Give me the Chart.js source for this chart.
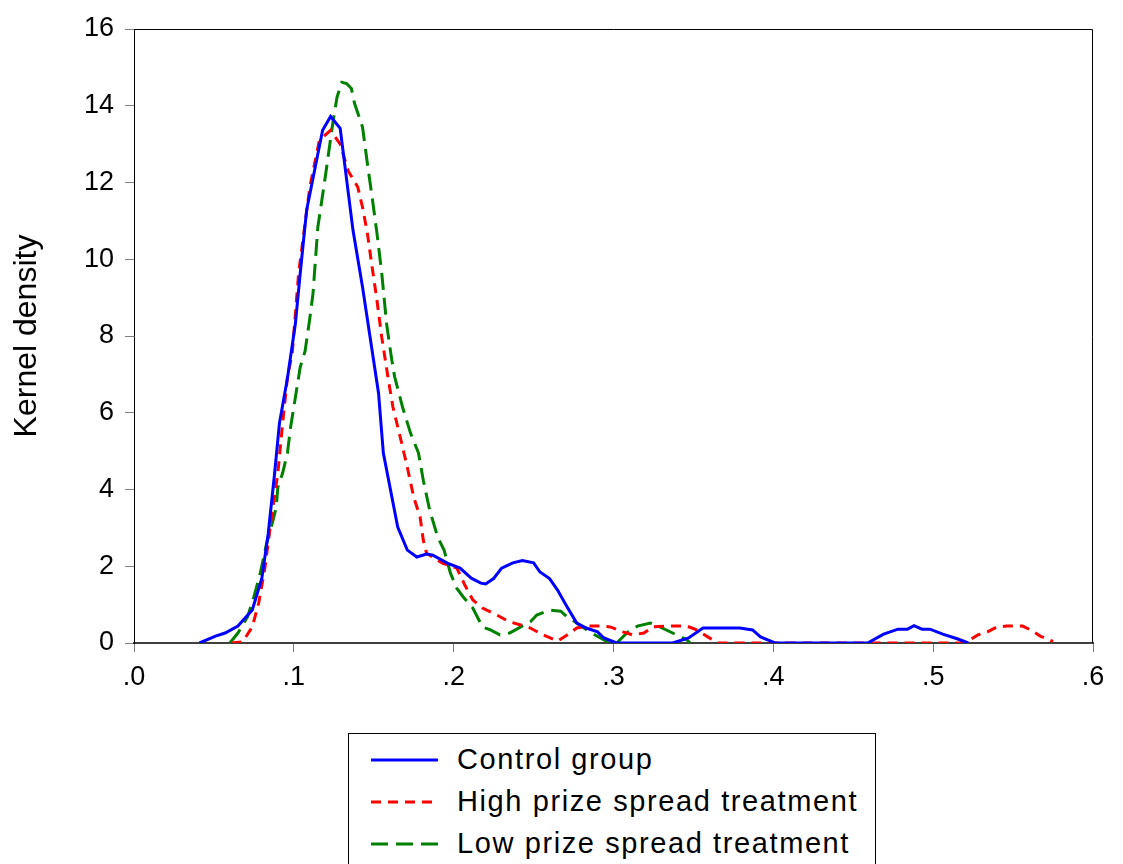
<!DOCTYPE html>
<html>
<head>
<meta charset="utf-8">
<title>Kernel density</title>
<script src="https://cdn.jsdelivr.net/npm/chart.js@4/dist/chart.umd.min.js"></script>
<style>
    body { margin: 0; background: #fff; }
    #wrap { position: relative; width: 1123px; height: 864px; overflow: hidden; background: #fff; }
    #chart { position: absolute; left: 0; top: 0; }
    #legend {
        position: absolute; left: 348px; top: 733px; width: 528px; height: 160px;
        border: 1px solid #000; box-sizing: border-box;
    }
    .row { position: absolute; left: 0; width: 100%; height: 42px; }
    .row svg { position: absolute; left: 21px; top: 0; }
    .row span {
        position: absolute; left: 108px; top: 0; line-height: 42px;
        font-family: "Liberation Sans", Arial, sans-serif; font-size: 29px;
        letter-spacing: 1.6px; color: #000; white-space: nowrap;
    }
</style>
</head>
<body>
<div id="wrap">
    <canvas id="chart" width="1123" height="720"></canvas>
    <div id="legend"></div>
</div>
<script>
// x ticks and their labels
const xTicks = [0, 0.1, 0.2, 0.3, 0.4, 0.5, 0.6];
const xTickLabels = ['.0', '.1', '.2', '.3', '.4', '.5', '.6'];
const yTicks = [0, 2, 4, 6, 8, 10, 12, 14, 16];

const seriesNames = ['Control group', 'High prize spread treatment', 'Low prize spread treatment'];

// Control group
const controlX = [0.041, 0.051, 0.057, 0.065, 0.074, 0.080, 0.084, 0.088, 0.091, 0.096,
    0.101, 0.104, 0.108, 0.118, 0.123, 0.129, 0.137, 0.143, 0.148, 0.153,
    0.156, 0.165, 0.171, 0.177, 0.183, 0.187, 0.196, 0.204, 0.211, 0.217,
    0.220, 0.225, 0.230, 0.237, 0.243, 0.250, 0.254, 0.260, 0.265, 0.271,
    0.277, 0.283, 0.290, 0.294, 0.302, 0.337, 0.347, 0.356, 0.379, 0.387,
    0.392, 0.401, 0.459, 0.469, 0.478, 0.484, 0.488, 0.493, 0.498, 0.506,
    0.515, 0.522];
const controlY = [0, 0.18, 0.26, 0.44, 0.86, 1.69, 2.86, 4.43, 5.73, 6.9,
    8.33, 9.64, 11.28, 13.36, 13.72, 13.41, 10.76, 9.27, 7.89, 6.51,
    4.95, 3.02, 2.42, 2.24, 2.32, 2.29, 2.08, 1.95, 1.69, 1.56,
    1.54, 1.68, 1.95, 2.09, 2.15, 2.09, 1.85, 1.68, 1.38, 0.94,
    0.52, 0.39, 0.29, 0.13, 0, 0, 0.13, 0.39, 0.39, 0.34,
    0.16, 0, 0, 0.23, 0.36, 0.36, 0.45, 0.36, 0.36, 0.23,
    0.11, 0];

// High prize spread treatment
const highX = [0.061, 0.068, 0.074, 0.078, 0.082, 0.086, 0.090, 0.093, 0.096, 0.099,
    0.103, 0.110, 0.116, 0.123, 0.129, 0.134, 0.140, 0.143, 0.146, 0.149,
    0.152, 0.155, 0.159, 0.162, 0.167, 0.171, 0.175, 0.179, 0.181, 0.183,
    0.193, 0.202, 0.207, 0.212, 0.218, 0.227, 0.235, 0.242, 0.248, 0.256,
    0.265, 0.271, 0.277, 0.284, 0.292, 0.298, 0.306, 0.312, 0.319, 0.325,
    0.334, 0.346, 0.352, 0.359, 0.365, 0.517, 0.522, 0.528, 0.534, 0.540,
    0.546, 0.556, 0.561, 0.567, 0.575];
const highY = [0, 0.03, 0.42, 1.04, 1.98, 3.28, 4.43, 5.73, 6.93, 7.55,
    9.64, 11.88, 13.1, 13.36, 13.0, 12.3, 11.88, 11.35, 10.68, 9.79,
    8.93, 7.97, 6.9, 6.15, 5.29, 4.58, 3.8, 3.28, 2.68, 2.34,
    2.08, 1.95, 1.51, 1.12, 0.91, 0.73, 0.55, 0.47, 0.39, 0.21,
    0.05, 0.21, 0.39, 0.44, 0.44, 0.42, 0.29, 0.21, 0.26, 0.42,
    0.44, 0.44, 0.34, 0.16, 0, 0, 0.06, 0.21, 0.29, 0.42,
    0.44, 0.44, 0.34, 0.18, 0.04];

// Low prize spread treatment
const lowX = [0.060, 0.065, 0.071, 0.075, 0.079, 0.083, 0.087, 0.089, 0.090, 0.093,
    0.096, 0.098, 0.101, 0.104, 0.107, 0.110, 0.112, 0.115, 0.120, 0.124,
    0.127, 0.130, 0.133, 0.136, 0.138, 0.143, 0.146, 0.149, 0.152, 0.155,
    0.158, 0.161, 0.163, 0.168, 0.173, 0.178, 0.181, 0.185, 0.190, 0.194,
    0.198, 0.202, 0.206, 0.212, 0.218, 0.223, 0.229, 0.235, 0.242, 0.248,
    0.252, 0.260, 0.267, 0.271, 0.277, 0.285, 0.294, 0.298, 0.302, 0.309,
    0.315, 0.323, 0.329, 0.337, 0.346, 0.348];
const lowY = [0, 0.26, 0.68, 1.2, 1.82, 2.6, 3.2, 3.54, 4.06, 4.43,
    4.95, 5.63, 6.41, 7.19, 7.6, 8.46, 9.11, 10.83, 12.24, 13.44,
    14.22, 14.61, 14.58, 14.45, 14.06, 13.44, 12.5, 11.61, 10.68, 9.64,
    8.33, 7.45, 6.95, 6.15, 5.47, 4.95, 4.24, 3.46, 2.76, 2.42,
    1.82, 1.42, 1.2, 0.91, 0.42, 0.34, 0.21, 0.26, 0.42, 0.55,
    0.73, 0.86, 0.83, 0.68, 0.52, 0.29, 0.08, 0, 0, 0.29,
    0.44, 0.52, 0.42, 0.26, 0.08, 0];

const seriesColors = ['#0000ff', '#ff0000', '#008000'];
const seriesDashes = [[], [10, 7], [17, 8]];

const FONT = '"Liberation Sans", Arial, sans-serif';

function toPoints(xs, ys) {
    return xs.map((x, i) => ({ x: x, y: ys[i] }));
}

// draws the top and right sides of the plot frame
const frame = {
    id: 'frame',
    afterDatasetsDraw(chart) {
        const a = chart.chartArea;
        const ctx = chart.ctx;
        ctx.save();
        ctx.strokeStyle = '#000';
        ctx.lineWidth = 1;
        ctx.beginPath();
        ctx.moveTo(a.left, a.top + 0.5);
        ctx.lineTo(a.right - 0.5, a.top + 0.5);
        ctx.lineTo(a.right - 0.5, a.bottom);
        ctx.stroke();
        ctx.restore();
    }
};

function buildLegend() {
    const box = document.getElementById('legend');
    seriesNames.forEach((name, i) => {
        const row = document.createElement('div');
        row.className = 'row';
        row.style.top = (4 + 42 * i) + 'px';
        const dash = seriesDashes[i].length ? seriesDashes[i].join(',') : 'none';
        row.innerHTML =
            '<svg width="70" height="42"><line x1="1" y1="22" x2="68" y2="22" stroke="' +
            seriesColors[i] + '" stroke-width="3" stroke-dasharray="' + dash + '"/></svg>' +
            '<span>' + name + '</span>';
        box.appendChild(row);
    });
}

function init() {
    const datasets = [
        toPoints(controlX, controlY),
        toPoints(highX, highY),
        toPoints(lowX, lowY)
    ].map((pts, i) => ({
        label: seriesNames[i],
        data: pts,
        borderColor: seriesColors[i],
        borderWidth: 3,
        borderDash: seriesDashes[i],
        pointRadius: 0,
        tension: 0,
        fill: false
    }));

    new Chart(document.getElementById('chart').getContext('2d'), {
        type: 'line',
        data: { datasets: datasets },
        options: {
            responsive: false,
            animation: false,
            layout: { padding: { top: 29, right: 30, left: 0, bottom: 0 } },
            plugins: { legend: { display: false }, tooltip: { enabled: false } },
            scales: {
                x: {
                    type: 'linear',
                    min: 0,
                    max: 0.6,
                    afterBuildTicks: (axis) => { axis.ticks = xTicks.map((v) => ({ value: v })); },
                    afterFit: (axis) => { axis.height = 77; },
                    ticks: {
                        color: '#000',
                        font: { family: FONT, size: 27 },
                        padding: 9,
                        maxRotation: 0,
                        callback: (v) => xTickLabels[xTicks.indexOf(v)]
                    },
                    grid: { drawOnChartArea: false, tickLength: 9, color: '#808080' },
                    border: { color: '#404040', width: 2 }
                },
                y: {
                    min: 0,
                    max: 16,
                    afterBuildTicks: (axis) => { axis.ticks = yTicks.map((v) => ({ value: v })); },
                    afterFit: (axis) => { axis.width = 134; },
                    ticks: {
                        color: '#000',
                        font: { family: FONT, size: 27 },
                        padding: 11
                    },
                    grid: { drawOnChartArea: false, tickLength: 9, color: '#808080' },
                    border: { color: '#000', width: 1 },
                    title: {
                        display: true,
                        text: 'Kernel density',
                        color: '#000',
                        font: { family: FONT, size: 32 },
                        padding: { top: 8, bottom: 0 }
                    }
                }
            }
        },
        plugins: [frame]
    });
    buildLegend();
}

document.addEventListener('DOMContentLoaded', init);
</script>
</body>
</html>
